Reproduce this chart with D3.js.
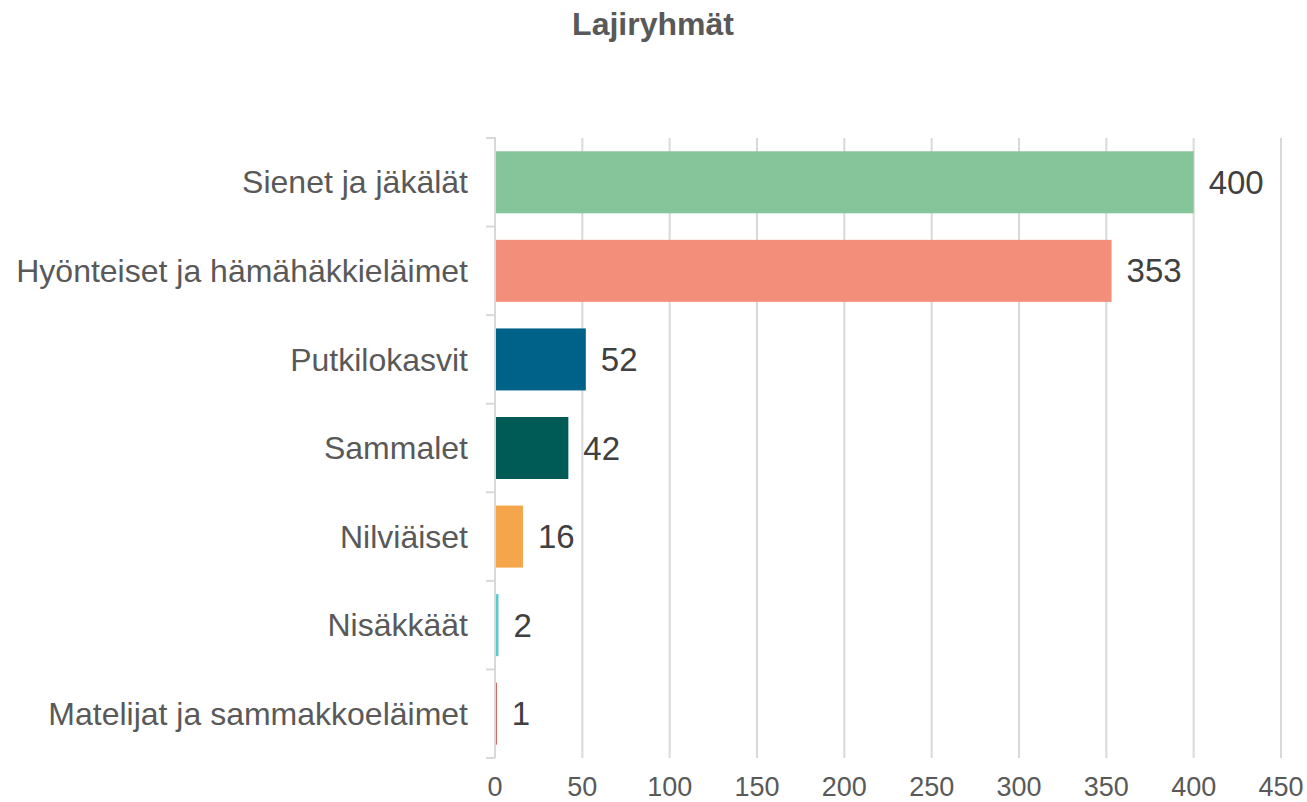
<!DOCTYPE html>
<html>
<head>
<meta charset="utf-8">
<script src="https://cdn.jsdelivr.net/npm/d3@7"></script>
<style>
  body { margin: 0; background: #fff; }
  text { font-family: "Liberation Sans", Arial, sans-serif; }
</style>
</head>
<body>
<svg width="1307" height="802"></svg>
<script>
const categories = ["Sienet ja jäkälät", "Hyönteiset ja hämähäkkieläimet", "Putkilokasvit",
    "Sammalet", "Nilviäiset", "Nisäkkäät", "Matelijat ja sammakkoeläimet"];
const values = [400, 353, 52, 42, 16, 2, 1];
const barColors = ["#86c49a", "#f28e7a", "#006288", "#005a56", "#f5a54a", "#5bc8d0", "#c0392b"];
const xTicks = [0, 50, 100, 150, 200, 250, 300, 350, 400, 450];

const svg = d3.select("svg");
const plotLeft = 495, plotRight = 1281, plotTop = 138, plotBottom = 758;

const x = d3.scaleLinear().domain([0, 450]).range([plotLeft, plotRight]);
const y = d3.scaleBand().domain(categories).range([plotTop, plotBottom]).paddingInner(0.3).paddingOuter(0.15);

// title
svg.append("text")
    .attr("x", 653).attr("y", 35)
    .attr("text-anchor", "middle")
    .attr("font-size", 32).attr("font-weight", "bold")
    .attr("fill", "#595959")
    .text("Lajiryhmät");

// vertical gridlines
svg.append("g").selectAll("line")
    .data(xTicks.slice(1))
    .enter().append("line")
    .attr("x1", d => x(d)).attr("x2", d => x(d))
    .attr("y1", plotTop).attr("y2", plotBottom)
    .attr("stroke", "#d9d9d9").attr("stroke-width", 2);

// bars
svg.append("g").selectAll("rect")
    .data(values)
    .enter().append("rect")
    .attr("x", x(0))
    .attr("y", (d, i) => y(categories[i]))
    .attr("width", d => x(d) - x(0))
    .attr("height", y.bandwidth())
    .attr("fill", (d, i) => barColors[i]);

// left axis line + ticks between bands
const bounds = d3.range(categories.length + 1).map(i => plotTop + i * y.step());
const ax = svg.append("g");
ax.append("line")
    .attr("x1", plotLeft).attr("x2", plotLeft).attr("y1", plotTop - 1).attr("y2", plotBottom)
    .attr("stroke", "#d9d9d9").attr("stroke-width", 2);
ax.selectAll("line.tick")
    .data(bounds)
    .enter().append("line").attr("class", "tick")
    .attr("x1", plotLeft - 9).attr("x2", plotLeft)
    .attr("y1", d => d).attr("y2", d => d)
    .attr("stroke", "#d9d9d9").attr("stroke-width", 2);

// category labels
svg.append("g").selectAll("text")
    .data(categories)
    .enter().append("text")
    .attr("x", plotLeft - 27)
    .attr("y", d => y(d) + y.bandwidth() / 2)
    .attr("dy", "0.35em")
    .attr("text-anchor", "end")
    .attr("font-size", 32)
    .attr("fill", "#595959")
    .text(d => d);

// value labels
svg.append("g").selectAll("text")
    .data(values)
    .enter().append("text")
    .attr("x", d => x(d) + 15)
    .attr("y", (d, i) => y(categories[i]) + y.bandwidth() / 2)
    .attr("dy", "0.35em")
    .attr("font-size", 33)
    .attr("fill", "#404040")
    .text(d => d);

// x tick labels
svg.append("g").selectAll("text")
    .data(xTicks)
    .enter().append("text")
    .attr("x", d => x(d))
    .attr("y", 796)
    .attr("text-anchor", "middle")
    .attr("font-size", 27)
    .attr("fill", "#595959")
    .text(d => d);
</script>
</body>
</html>
